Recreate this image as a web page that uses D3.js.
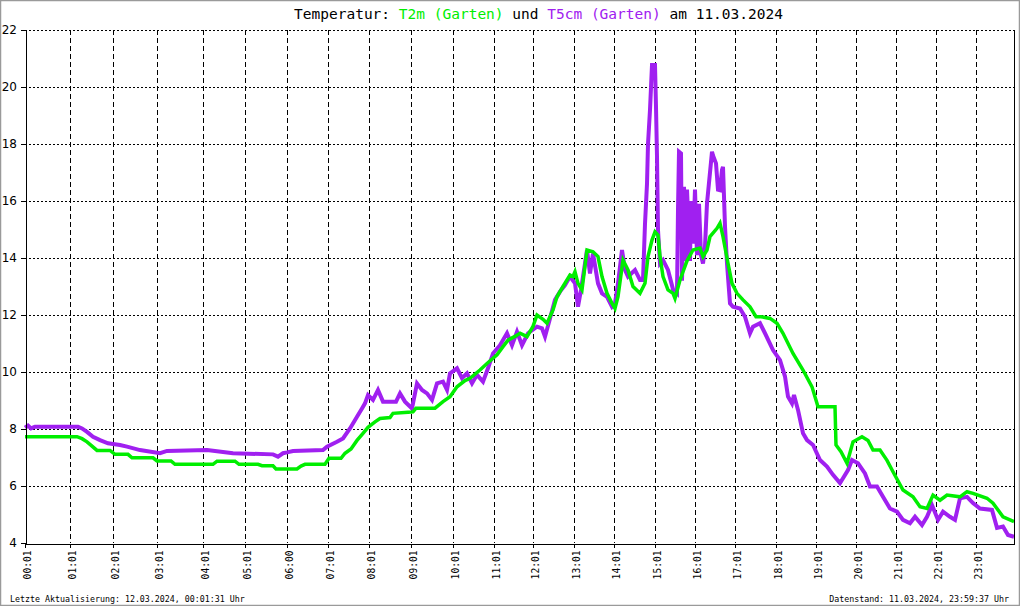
<!DOCTYPE html>
<html><head><meta charset="utf-8">
<script src="https://cdn.jsdelivr.net/npm/d3@7"></script>
<style>body{margin:0;background:#fff}svg{display:block}</style>
</head><body>
<script>
// ---- data ----
const totalSamples = 989;
const tickLabels = ["00:01","01:01","02:01","03:01","04:01","05:01","06:00","07:01","08:01","09:01","10:01","11:01","12:01","13:01","14:01","15:01","16:01","17:01","18:01","19:01","20:01","21:01","22:01","23:01"];
const tickSample = [0,45,88,132,178,220,262,303,344,386,428,469,508,549,589,630,670,710,751,791,831,871,911,951];
const yTicks = [4,6,8,10,12,14,16,18,20,22];
// [sample index, °C]
const t2m = [[0,7.73],[52,7.73],[57,7.66],[62,7.55],[67,7.4],[72,7.25],[85,7.25],[90,7.11],[103,7.11],[107,6.99],[128,6.99],[132,6.88],[146,6.88],[150,6.76],[188,6.76],[192,6.87],[210,6.87],[214,6.76],[233,6.76],[237,6.71],[248,6.71],[251,6.6],[272,6.6],[276,6.7],[280,6.76],[300,6.76],[304,6.97],[316,6.97],[320,7.15],[326,7.3],[332,7.6],[338,7.85],[343,8.06],[350,8.25],[355,8.37],[365,8.4],[368,8.55],[383,8.59],[388,8.6],[391,8.73],[410,8.73],[418,8.96],[425,9.13],[432,9.48],[440,9.7],[445,9.78],[455,10.07],[462,10.3],[472,10.6],[478,10.89],[483,11.12],[490,11.25],[495,11.36],[502,11.24],[508,11.6],[512,12.0],[518,11.85],[522,11.71],[528,12.18],[532,12.64],[538,13.0],[545,13.4],[548,13.35],[550,13.52],[553,13.11],[557,12.88],[562,14.28],[568,14.22],[573,14.05],[577,13.35],[582,12.76],[587,12.41],[590,12.23],[593,12.64],[598,13.93],[603,13.58],[608,13.0],[615,12.76],[620,13.11],[623,14.05],[627,14.63],[630,14.92],[633,14.8],[635,14.05],[638,13.35],[643,12.88],[648,12.76],[650,12.58],[655,13.23],[662,13.9],[668,14.28],[675,14.35],[678,14.05],[682,14.28],[685,14.75],[692,15.04],[695,15.22],[698,14.75],[703,13.81],[707,13.11],[712,12.76],[718,12.53],[725,12.29],[731,11.94],[736,11.94],[745,11.88],[752,11.71],[758,11.36],[768,10.65],[778,10.07],[787,9.48],[793,8.78],[810,8.78],[811,7.44],[816,7.2],[822,6.8],[828,7.55],[837,7.73],[843,7.6],[848,7.26],[855,7.26],[862,6.9],[868,6.5],[878,5.86],[888,5.62],[895,5.27],[902,5.21],[908,5.68],[915,5.5],[922,5.68],[935,5.62],[942,5.8],[948,5.74],[962,5.57],[968,5.4],[978,4.92],[989,4.75]];
const t5cm = [[0,8.05],[3,8.12],[6,8.02],[10,8.08],[53,8.08],[57,8.02],[62,7.9],[68,7.73],[75,7.61],[83,7.5],[95,7.44],[102,7.38],[115,7.26],[135,7.15],[142,7.23],[182,7.26],[208,7.15],[248,7.11],[253,7.03],[258,7.15],[262,7.18],[268,7.23],[298,7.26],[302,7.38],[312,7.55],[318,7.67],[325,8.02],[332,8.43],[337,8.72],[340,8.9],[343,9.19],[348,9.02],[353,9.37],[358,8.96],[371,8.96],[375,9.25],[380,8.96],[387,8.72],[392,9.6],[397,9.37],[402,9.25],[407,9.02],[412,9.6],[418,9.66],[422,9.37],[425,9.95],[432,10.13],[437,9.78],[442,9.95],[447,9.6],[452,9.9],[458,9.66],[463,10.13],[468,10.65],[475,10.94],[482,11.36],[487,10.94],[492,11.41],[497,10.94],[503,11.36],[512,11.59],[517,11.53],[520,11.24],[525,11.88],[530,12.53],[535,12.82],[540,13.05],[545,13.35],[550,13.11],[553,12.29],[556,12.88],[559,13.58],[562,14.28],[565,13.46],[568,14.16],[573,13.11],[577,12.76],[582,12.64],[587,12.29],[590,12.41],[593,13.11],[597,14.28],[600,13.58],[603,13.35],[610,13.58],[615,13.23],[618,13.23],[620,15.2],[622,16.6],[623,18.0],[625,19.2],[627,20.77],[630,20.77],[631,19.3],[632,17.55],[633,14.98],[635,13.81],[638,13.93],[643,13.58],[648,12.9],[652,12.76],[653,15.68],[654,17.73],[656,17.67],[657,13.2],[659,16.5],[661,13.9],[662,16.4],[665,13.9],[666,16.0],[668,14.5],[670,16.4],[672,14.1],[674,15.9],[676,14.1],[678,13.81],[680,14.4],[682,15.92],[685,17.0],[687,17.73],[688,17.6],[691,17.32],[693,16.4],[695,16.38],[697,17.09],[698,17.2],[700,15.1],[702,13.81],[705,12.41],[708,12.29],[715,12.23],[720,11.94],[725,11.36],[728,11.59],[735,11.71],[740,11.36],[748,10.77],[755,10.42],[760,9.84],[763,9.14],[767,8.9],[769,9.19],[773,8.67],[778,7.85],[782,7.61],[788,7.44],[795,6.91],[802,6.68],[808,6.39],[815,6.1],[818,6.27],[823,6.56],[827,6.91],[833,6.8],[840,6.44],[845,5.98],[852,5.98],[858,5.62],[865,5.21],[872,5.1],[878,4.81],[885,4.69],[890,4.92],[897,4.63],[902,4.92],[907,5.33],[913,4.81],[918,5.1],[925,4.92],[930,4.81],[935,5.57],[942,5.62],[948,5.4],[955,5.21],[967,5.16],[972,4.53],[978,4.58],[983,4.28],[989,4.22]];

// ---- drawing ----
const W = 1020, H = 606;
const L = 25, R = 1014, T = 30, B = 543;
const green = "#00ee00", purple = "#a020f0";
const mono = "'DejaVu Sans Mono', monospace";

const svg = d3.select("body").append("svg").attr("width", W).attr("height", H);
svg.append("rect").attr("x", 0.5).attr("y", 0.5).attr("width", W - 1).attr("height", H - 1)
  .attr("fill", "#fff").attr("stroke", "#9a9a9a").attr("stroke-width", 1.5);

const x = d3.scaleLinear().domain([0, totalSamples]).range([L, R]);
const y = d3.scaleLinear().domain([4, 22]).range([B, T]);

// grid
const grid = svg.append("g").attr("shape-rendering", "crispEdges");
grid.selectAll("line.h").data(yTicks.filter(v => v > 4)).join("line")
  .attr("x1", L).attr("x2", R).attr("y1", d => Math.round(y(d)) + 0.5).attr("y2", d => Math.round(y(d)) + 0.5)
  .attr("stroke", "#000").attr("stroke-dasharray", "2,2");
grid.selectAll("line.v").data(tickSample.filter(v => v > 0)).join("line")
  .attr("y1", T).attr("y2", B).attr("x1", d => Math.round(x(d)) + 0.5).attr("x2", d => Math.round(x(d)) + 0.5)
  .attr("stroke", "#000").attr("stroke-dasharray", "5,3");

// lines
const line = d3.line().x(d => x(d[0])).y(d => y(d[1])).curve(d3.curveLinear);
svg.append("path").datum(t5cm).attr("d", line).attr("fill", "none")
  .attr("stroke", purple).attr("stroke-width", 4).attr("stroke-linejoin", "miter");
svg.append("path").datum(t2m).attr("d", line).attr("fill", "none")
  .attr("stroke", green).attr("stroke-width", 3.5).attr("stroke-linejoin", "miter");

// axes
const yAxis = svg.append("g").attr("transform", `translate(${L + 0.5},0)`)
  .call(d3.axisLeft(y).tickValues(yTicks).tickSize(5).tickSizeOuter(0).tickFormat(d3.format("d")));
yAxis.selectAll("text").attr("font-family", "'DejaVu Sans', sans-serif").attr("font-size", 12)
  .attr("fill", "#000").attr("x", -8.5);
yAxis.attr("shape-rendering", "crispEdges");

const xAxis = svg.append("g").attr("transform", `translate(0,${B + 0.5})`)
  .call(d3.axisBottom(x).tickValues(tickSample).tickSize(4).tickSizeOuter(0).tickFormat((d, i) => tickLabels[i]));
xAxis.attr("shape-rendering", "crispEdges");
xAxis.selectAll("text")
  .attr("font-family", mono).attr("font-size", 9.6).attr("fill", "#000")
  .attr("text-anchor", "end").attr("dy", null).attr("y", null)
  .attr("transform", "translate(5.5,7) rotate(-90)");

// right border
svg.append("line").attr("x1", R + 0.5).attr("x2", R + 0.5).attr("y1", T).attr("y2", B + 0.5)
  .attr("stroke", "#000").attr("shape-rendering", "crispEdges");

// title
const title = svg.append("text").attr("x", 538.5).attr("y", 19).attr("text-anchor", "middle")
  .attr("font-family", mono).attr("font-size", 14.5).attr("fill", "#000").attr("xml:space", "preserve");
title.append("tspan").text("Temperatur: ");
title.append("tspan").attr("fill", green).text("T2m (Garten)");
title.append("tspan").text(" und ");
title.append("tspan").attr("fill", purple).text("T5cm (Garten)");
title.append("tspan").text(" am 11.03.2024");

// footer
svg.append("text").attr("x", 10).attr("y", 601.5).attr("font-family", mono).attr("font-size", 8.3)
  .attr("fill", "#000").text("Letzte Aktualisierung: 12.03.2024, 00:01:31 Uhr");
svg.append("text").attr("x", 1009).attr("y", 601.5).attr("text-anchor", "end").attr("font-family", mono)
  .attr("font-size", 8.3).attr("fill", "#000").text("Datenstand: 11.03.2024, 23:59:37 Uhr");
</script>
</body></html>
